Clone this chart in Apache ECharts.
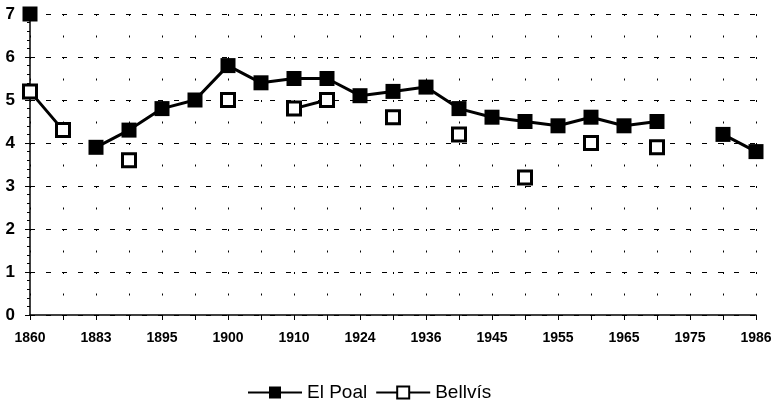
<!DOCTYPE html>
<html>
<head>
<meta charset="utf-8">
<script src="https://cdn.jsdelivr.net/npm/echarts@6/dist/echarts.min.js"></script>
<style>
html,body{margin:0;padding:0;background:#fff;}
#chart{width:774px;height:405px;}
</style>
</head>
<body>
<div id="chart"></div>
<script>
// 23 category slots; only every other slot carries a year label
const categories = ['1860','','1883','','1895','','1900','','1910','','1924','','1936','','1945','','1955','','1965','','1975','','1986'];
const elPoal  = [7.0, null, 3.9, 4.3, 4.8, 5.0, 5.8, 5.4, 5.5, 5.5, 5.1, 5.2, 5.3, 4.8, 4.6, 4.5, 4.4, 4.6, 4.4, 4.5, null, 4.2, 3.8];
const bellvis = [5.2, 4.3, null, 3.6, null, null, 5.0, null, 4.8, 5.0, null, 4.6, null, 4.2, null, 3.2, null, 4.0, null, 3.9, null, null, null];
const yTicks = [0, 7, 1];

const chart = echarts.init(document.getElementById('chart'));
chart.setOption({
  animation: false,
  backgroundColor: '#fff',
  textStyle: { fontFamily: 'Liberation Sans, Arial, sans-serif', color: '#000' },
  grid: { left: 30, right: 18, top: 14, bottom: 90, containLabel: false, outerBoundsMode: 'none' },
  legend: {
    top: 383,
    left: 247,
    padding: 0,
    itemWidth: 54,
    itemHeight: 15,
    itemGap: 8,
    textStyle: { fontSize: 19, color: '#000', fontFamily: 'Liberation Sans, Arial, sans-serif' },
    data: ['El Poal', 'Bellvís']
  },
  xAxis: {
    type: 'category',
    data: categories,
    boundaryGap: false,
    axisLine: { lineStyle: { color: '#000', width: 1.5 } },
    axisTick: { show: true, interval: 0, length: 5, lineStyle: { color: '#000', width: 1 } },
    axisLabel: { interval: 0, color: '#000', fontSize: 14, margin: 16, fontWeight: 'bold',
      fontFamily: 'Liberation Sans, Arial, sans-serif' },
    splitLine: { show: true, interval: 0, lineStyle: { color: '#000', width: 1, type: [2, 19.5] } }
  },
  yAxis: {
    type: 'value',
    min: yTicks[0],
    max: yTicks[1],
    interval: yTicks[2],
    axisLine: { show: true, lineStyle: { color: '#000', width: 1.5 } },
    axisTick: { show: true, length: 5, lineStyle: { color: '#000' } },
    minorTick: { show: true, splitNumber: 5, length: 3, lineStyle: { color: '#000' } },
    axisLabel: { color: '#000', fontSize: 17, fontWeight: 'bold', margin: 15 },
    splitLine: { show: true, lineStyle: { color: '#000', width: 1, type: [5, 11] } }
  },
  series: [
    {
      name: 'El Poal',
      type: 'line',
      data: elPoal,
      connectNulls: false,
      symbol: 'rect',
      symbolSize: 15,
      showAllSymbol: true,
      lineStyle: { color: '#000', width: 3 },
      itemStyle: { color: '#000', borderColor: '#000', borderWidth: 0 },
      z: 3
    },
    {
      name: 'Bellvís',
      type: 'line',
      data: bellvis,
      connectNulls: false,
      symbol: 'rect',
      symbolSize: 13,
      showAllSymbol: true,
      lineStyle: { color: '#000', width: 3 },
      itemStyle: { color: '#fff', borderColor: '#000', borderWidth: 3 },
      z: 2
    }
  ]
});
</script>
</body>
</html>
